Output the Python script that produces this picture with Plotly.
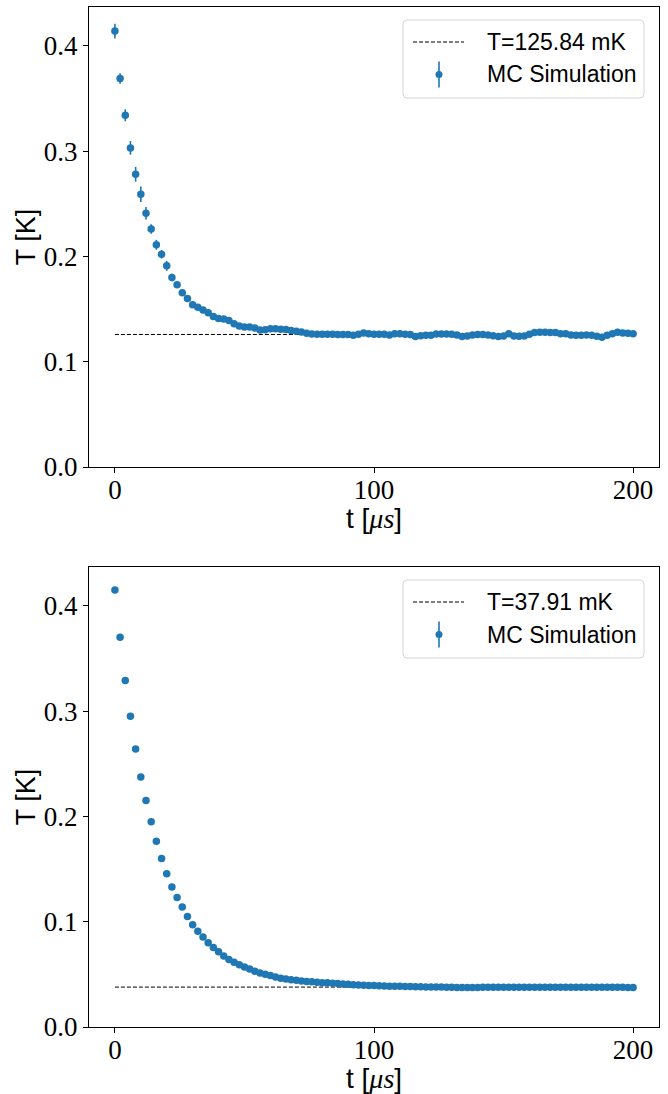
import plotly.graph_objects as go

# ---------------- data ----------------
t = [2 * i for i in range(101)]  # time in microseconds

T_eq_top = 0.12584   # K
T_eq_bot = 0.03791   # K
label_top = "T=125.84 mK"
label_bot = "T=37.91 mK"

T_top = [
    0.414, 0.369, 0.334, 0.303, 0.278, 0.259, 0.241, 0.226, 0.211, 0.202,
    0.191, 0.180, 0.173, 0.1655, 0.160, 0.154, 0.1517, 0.149, 0.1465, 0.1428,
    0.1409, 0.1405, 0.139, 0.136, 0.134, 0.133, 0.133, 0.132, 0.130, 0.1304,
    0.1313, 0.1313, 0.1307, 0.1305, 0.1295, 0.129, 0.1282, 0.1269, 0.1263, 0.1260,
    0.1260, 0.1260, 0.1260, 0.1257, 0.1257, 0.1257, 0.1250, 0.1260, 0.1273, 0.1266,
    0.1260, 0.1260, 0.1260, 0.1254, 0.1266, 0.1266, 0.1260, 0.1257, 0.1238, 0.1247,
    0.1250, 0.1250, 0.1263, 0.1263, 0.1263, 0.1260, 0.1254, 0.1238, 0.1244, 0.1254,
    0.1257, 0.1257, 0.1254, 0.1247, 0.1238, 0.1244, 0.1266, 0.1244, 0.1241, 0.1244,
    0.1260, 0.1276, 0.1279, 0.1279, 0.1276, 0.1276, 0.1266, 0.1266, 0.1254, 0.1250,
    0.1250, 0.1254, 0.1250, 0.1241, 0.1232, 0.1250, 0.1266, 0.1279, 0.1273, 0.1269,
    0.1266,
]
err_top = [
    0.0070, 0.0050, 0.0057, 0.0065, 0.0070, 0.0073, 0.0060, 0.0045, 0.0047, 0.0040,
    0.0047, 0.0035, 0.0030, 0.0030, 0.0028, 0.0028, 0.0026, 0.0026, 0.0025, 0.0025,
] + [0.0022] * 20 + [0.0020] * 61

T_bot = [
    0.415, 0.370, 0.329, 0.295, 0.264, 0.2375, 0.215, 0.195, 0.1765, 0.160,
    0.1455, 0.133, 0.123, 0.114, 0.105, 0.097, 0.091, 0.0855, 0.080, 0.0755,
    0.0715, 0.0675, 0.064, 0.0615, 0.059, 0.057, 0.055, 0.053, 0.0513, 0.0500,
    0.0488, 0.0474, 0.0463, 0.0456, 0.0449, 0.0443, 0.0437, 0.0433, 0.0429, 0.0425,
    0.0421, 0.0419, 0.0415, 0.0412, 0.0408, 0.0406, 0.0402, 0.0400, 0.0397, 0.0395,
    0.0393, 0.0392, 0.0390, 0.0388, 0.0387, 0.0386, 0.0385, 0.0384, 0.0383, 0.0382,
    0.0381, 0.0380, 0.0380, 0.0379, 0.0378, 0.0377, 0.0376, 0.0375, 0.0375, 0.0375,
    0.0376, 0.0377, 0.0377, 0.0378, 0.0378, 0.0378, 0.0378, 0.0378, 0.0378, 0.0378,
    0.0378, 0.0378, 0.0378, 0.0378, 0.0378, 0.0378, 0.0378, 0.0378, 0.0378, 0.0377,
    0.0377, 0.0377, 0.0377, 0.0377, 0.0377, 0.0377, 0.0377, 0.0377, 0.0377, 0.0376,
    0.0376,
]
err_bot = [0.0015] * 10 + [0.0010] * 20 + [0.0006] * 71

x_ticks = [0, 100, 200]
y_ticks = [0.0, 0.1, 0.2, 0.3, 0.4]
x_title = 't [<span style="font-family:Liberation Serif"><i>μs</i></span>]'
y_title = "T [K]"

# ---------------- style ----------------
BLUE = "#1f77b4"
SANS = "Liberation Sans"
SERIF = "Liberation Serif"
W, H = 668, 1094
ML, MR, MT, MB = 89, 9, 7, 67
PW = W - ML - MR          # 570
PH_TOTAL = H - MT - MB    # 1020
PANEL_H = 460

fig = go.Figure()

panels = [
    dict(x="x", y="y", T=T_top, err=err_top, Teq=T_eq_top, label=label_top),
    dict(x="x2", y="y2", T=T_bot, err=err_bot, Teq=T_eq_bot, label=label_bot),
]

for p in panels:
    fig.add_trace(go.Scatter(
        x=[t[0], t[-1]], y=[p["Teq"], p["Teq"]], mode="lines",
        line=dict(color="black", width=1, dash="4px,2px"),
        xaxis=p["x"], yaxis=p["y"], showlegend=False, hoverinfo="skip"))
    fig.add_trace(go.Scatter(
        x=t, y=p["T"], mode="markers",
        marker=dict(color=BLUE, size=7.5),
        error_y=dict(type="data", array=p["err"], color=BLUE, thickness=1.6, width=0),
        xaxis=p["x"], yaxis=p["y"], showlegend=False))

axis_common = dict(
    showline=True, mirror=True, linecolor="black", linewidth=1,
    ticks="outside", ticklen=5, tickwidth=1, tickcolor="black",
    showgrid=False, zeroline=False,
    tickfont=dict(family=SERIF, size=27, color="black"),
)

top_dom = [(PH_TOTAL - PANEL_H) / PH_TOTAL, 1.0]
bot_dom = [0.0, PANEL_H / PH_TOTAL]

ytitle = dict(text=y_title, font=dict(family=SANS, size=27, color="black"), standoff=0)

fig.update_layout(
    width=W, height=H,
    margin=dict(l=ML, r=MR, t=MT, b=MB, autoexpand=False),
    paper_bgcolor="white", plot_bgcolor="white",
    showlegend=False,
    xaxis=dict(axis_common, domain=[0, 1], anchor="y", range=[-10, 210],
               tickvals=x_ticks, ticklabelstandoff=-6),
    yaxis=dict(axis_common, domain=top_dom, anchor="x", range=[0, 0.4368],
               tickvals=y_ticks, tickformat=".1f", title=ytitle),
    xaxis2=dict(axis_common, domain=[0, 1], anchor="y2", range=[-10, 210],
                tickvals=x_ticks, ticklabelstandoff=-6),
    yaxis2=dict(axis_common, domain=bot_dom, anchor="x2", range=[0, 0.4368],
                tickvals=y_ticks, tickformat=".1f", title=ytitle),
)

# ---------------- manual legends (matplotlib style) ----------------
def dx(px):
    return px / PW

def dy(px):
    return px / PANEL_H

def rounded_rect(x0, y0, x1, y1, r):
    rx, ry = dx(r), dy(r)
    return (f"M {x0+rx},{y1} L {x1-rx},{y1} Q {x1},{y1} {x1},{y1-ry} "
            f"L {x1},{y0+ry} Q {x1},{y0} {x1-rx},{y0} L {x0+rx},{y0} "
            f"Q {x0},{y0} {x0},{y0+ry} L {x0},{y1-ry} Q {x0},{y1} {x0+rx},{y1} Z")

# legend geometry in pixels relative to panel top-left
LX0, LX1, LY0, LY1 = 403 - ML, 644 - ML, 13, 91
ROW1, ROW2 = 35, 67.5
SYM_X0, SYM_X1 = 413 - ML, 464 - ML
SYM_C = 439 - ML
TXT_X = 485 - ML

for p in panels:
    xr, yr = p["x"] + " domain", p["y"] + " domain"
    ydom = lambda py: 1 - py / PANEL_H
    # x-axis title placed like matplotlib's
    fig.add_annotation(xref=xr, yref=yr, x=0.5, y=0, yshift=-51,
                       text=x_title, showarrow=False, xanchor="center", yanchor="middle",
                       font=dict(family=SANS, size=28, color="black"))
    fig.add_shape(type="path", xref=xr, yref=yr,
                  path=rounded_rect(dx(LX0), ydom(LY1), dx(LX1), ydom(LY0), 4),
                  line=dict(color="#d5d5d5", width=1), fillcolor="rgba(255,255,255,0.8)")
    fig.add_shape(type="line", xref=xr, yref=yr,
                  x0=dx(SYM_X0), x1=dx(SYM_X1), y0=ydom(ROW1), y1=ydom(ROW1),
                  line=dict(color="black", width=1, dash="4px,2px"))
    fig.add_shape(type="line", xref=xr, yref=yr,
                  x0=dx(SYM_C), x1=dx(SYM_C), y0=ydom(ROW2 - 13), y1=ydom(ROW2 + 13),
                  line=dict(color=BLUE, width=1.6))
    fig.add_shape(type="circle", xref=xr, yref=yr,
                  x0=dx(SYM_C - 3.5), x1=dx(SYM_C + 3.5),
                  y0=ydom(ROW2 + 3.5), y1=ydom(ROW2 - 3.5),
                  line=dict(color=BLUE, width=0), fillcolor=BLUE)
    for txt, row in [(p["label"], ROW1), ("MC Simulation", ROW2)]:
        fig.add_annotation(xref=xr, yref=yr, x=dx(TXT_X), y=ydom(row),
                           text=txt, showarrow=False, xanchor="left", yanchor="middle",
                           font=dict(family=SANS, size=23, color="black"))

fig.write_html("out.html")
